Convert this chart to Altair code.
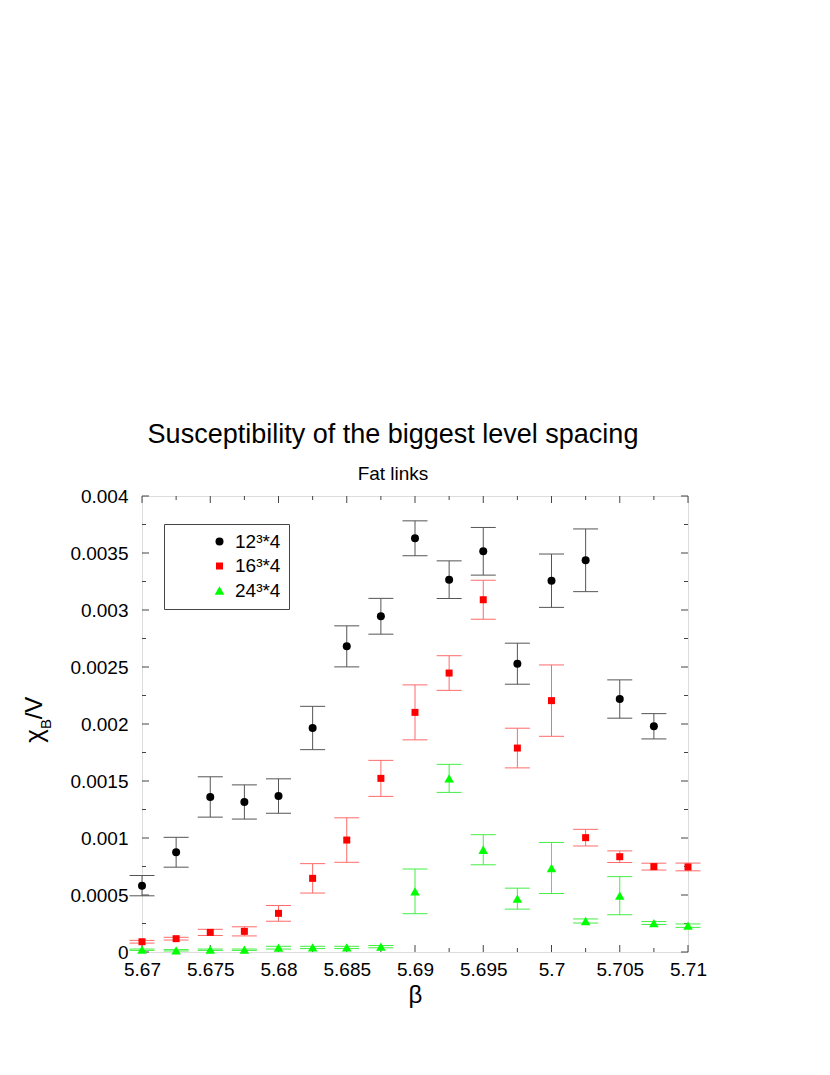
import altair as alt
import pandas as pd

# ---------------- data ----------------
beta = [5.67, 5.6725, 5.675, 5.6775, 5.68, 5.6825, 5.685, 5.6875, 5.69,
        5.6925, 5.695, 5.6975, 5.7, 5.7025, 5.705, 5.7075, 5.71]
series_names = ["12³*4", "16³*4", "24³*4"]

chi_12 = [0.000582, 0.000875, 0.00136, 0.001316, 0.001368, 0.001965, 0.002681, 0.002945,
          0.003629, 0.003266, 0.003515, 0.002529, 0.003257, 0.003436, 0.002219, 0.00198]
err_12 = [0.000089, 0.000131, 0.000177, 0.00015, 0.000151, 0.00019, 0.00018, 0.000157,
          0.000153, 0.000165, 0.000209, 0.00018, 0.000234, 0.000275, 0.000168, 0.000111]

chi_16 = [0.00009, 0.000117, 0.000172, 0.000181, 0.000339, 0.000646, 0.000982, 0.001523,
          0.002102, 0.002447, 0.00309, 0.001789, 0.002205, 0.001003, 0.000836, 0.000749, 0.000746]
err_16 = [0.000012, 0.000012, 0.000027, 0.00004, 0.000069, 0.000129, 0.000195, 0.000158,
          0.000241, 0.000152, 0.000171, 0.000174, 0.000313, 0.000073, 0.000051, 0.00003, 0.000034]

chi_24 = [0.00002, 0.000015, 0.00002, 0.00002, 0.000038, 0.00004, 0.00004, 0.000047,
          0.000532, 0.001523, 0.000897, 0.000468, 0.000737, 0.000272, 0.000494, 0.000254, 0.000231]
err_24 = [0.000006, 0.000006, 0.000006, 0.000006, 0.000012, 0.00001, 0.00001, 0.00001,
          0.000196, 0.000123, 0.000132, 0.000092, 0.000224, 0.000018, 0.000167, 0.000013, 0.000015]

x_major = [5.67, 5.675, 5.68, 5.685, 5.69, 5.695, 5.7, 5.705, 5.71]
x_minor = [5.6725, 5.6775, 5.6825, 5.6875, 5.6925, 5.6975, 5.7025, 5.7075]
y_major = [0, 0.0005, 0.001, 0.0015, 0.002, 0.0025, 0.003, 0.0035, 0.004]
y_minor = [0.00025, 0.00075, 0.00125, 0.00175, 0.00225, 0.00275, 0.00325, 0.00375]

rows = []
for name, vals, errs in zip(series_names, [chi_12, chi_16, chi_24], [err_12, err_16, err_24]):
    for b, v, e in zip(beta, vals, errs):
        rows.append({"series": name, "beta": b, "val": v, "lo": v - e, "hi": v + e})
df = pd.DataFrame(rows)

# ---------------- layout ----------------
W, H = 546, 456
FONT = "Liberation Sans"
FRAME = "#444444"
MAJ, MIN = 7, 4
CAP = 12.5

x_scale = alt.Scale(domain=[5.67, 5.71], nice=False, zero=False)
y_scale = alt.Scale(domain=[0, 0.004], nice=False, zero=False)

x_axis = alt.Axis(values=x_major, format=".6~g", title="β", ticks=False, tickSize=0,
                  domain=False, grid=False, labelFlush=False, labelPadding=8,
                  labelFontSize=19, labelFont=FONT, labelColor="black",
                  titleFont=FONT, titleFontSize=24, titleFontWeight="normal",
                  titleColor="black", titlePadding=4)
y_axis = alt.Axis(values=y_major, format=".6~g", title="", ticks=False, tickSize=0,
                  domain=False, grid=False, labelFlush=False, labelPadding=14,
                  labelFontSize=19, labelFont=FONT, labelColor="black")

X = lambda f: alt.X(f, type="quantitative", scale=x_scale, axis=x_axis)
Y = lambda f: alt.Y(f, type="quantitative", scale=y_scale, axis=y_axis)

err_stroke = alt.Stroke("series:N",
                        scale=alt.Scale(domain=series_names,
                                        range=["#555555", "#ff6a6a", "#44ee44"]),
                        legend=None)

base = alt.Chart(df)
err_rules = base.mark_rule(strokeWidth=1).encode(
    x=X("beta"), y=Y("lo"), y2="hi", stroke=err_stroke)
cap_lo = base.mark_rule(strokeWidth=1, xOffset=-CAP, x2Offset=CAP).encode(
    x=X("beta"), x2="beta", y=Y("lo"), stroke=err_stroke)
cap_hi = base.mark_rule(strokeWidth=1, xOffset=-CAP, x2Offset=CAP).encode(
    x=X("beta"), x2="beta", y=Y("hi"), stroke=err_stroke)

leg = dict(title="", orient="none", legendX=22, legendY=28, padding=8,
           symbolOffset=38, strokeColor=FRAME, fillColor="white", symbolSize=64,
           labelFontSize=19, labelFont=FONT, labelColor="black",
           rowPadding=4.5, labelOffset=6, symbolStrokeWidth=0)

points = base.mark_point(filled=True, opacity=1, strokeWidth=0).encode(
    x=X("beta"), y=Y("val"),
    color=alt.Color("series:N", scale=alt.Scale(domain=series_names,
                                                range=["#000000", "#ff0000", "#00ff00"]),
                    legend=alt.Legend(**leg)),
    shape=alt.Shape("series:N", scale=alt.Scale(domain=series_names,
                                                range=["circle", "square", "triangle-up"]),
                    legend=alt.Legend(**leg)),
    size=alt.Size("series:N", scale=alt.Scale(type="ordinal", domain=series_names,
                                              range=[64, 49, 92]),
                  legend=None),
)


def xticks(vals, y0, y1):
    return alt.Chart(pd.DataFrame({"v": vals})).mark_rule(color=FRAME, strokeWidth=1).encode(
        x=X("v"), y=alt.value(y0), y2=alt.value(y1))


def yticks(vals, x0, x1):
    return alt.Chart(pd.DataFrame({"v": vals})).mark_rule(color=FRAME, strokeWidth=1).encode(
        y=Y("v"), x=alt.value(x0), x2=alt.value(x1))


ticks = [
    xticks(x_major, H, H - MAJ), xticks(x_minor, H, H - MIN),
    xticks(x_major, 0, MAJ), xticks(x_minor, 0, MIN),
    yticks(y_major, 0, MAJ), yticks(y_minor, 0, MIN),
    yticks(y_major, W, W - MAJ), yticks(y_minor, W, W - MIN),
]

one = alt.Chart(pd.DataFrame({"k": [0]}))
ylab_chi = one.mark_text(angle=270, font=FONT, fontSize=26, align="center",
                         baseline="middle", color="black").encode(
    x=alt.value(-107), y=alt.value(240), text=alt.value("χ"))
ylab_b = one.mark_text(angle=270, font=FONT, fontSize=15, align="center",
                       baseline="middle", color="black").encode(
    x=alt.value(-96), y=alt.value(228), text=alt.value("B"))
ylab_v = one.mark_text(angle=270, font=FONT, fontSize=24, align="center",
                       baseline="middle", color="black").encode(
    x=alt.value(-107), y=alt.value(212), text=alt.value("/V"))

chart = alt.layer(
    *ticks, err_rules, cap_lo, cap_hi, points, ylab_chi, ylab_b, ylab_v
).resolve_scale(
    color="independent", shape="independent", size="independent", stroke="independent"
).properties(
    width=W, height=H,
    autosize=alt.AutoSizeParams(type="none"),
    padding={"left": 134, "top": 488, "right": 100, "bottom": 100},
    title=alt.TitleParams(
        text="Susceptibility of the biggest level spacing",
        subtitle="Fat links",
        font=FONT, subtitleFont=FONT, fontSize=27, subtitleFontSize=19,
        fontWeight="normal", color="black", subtitleColor="black",
        anchor="middle", dx=-22, offset=2, subtitlePadding=16,
    ),
).configure_view(stroke=FRAME, strokeWidth=1).configure(background="white")

chart.save("out.html", embed_options={"renderer": "svg", "actions": False})
